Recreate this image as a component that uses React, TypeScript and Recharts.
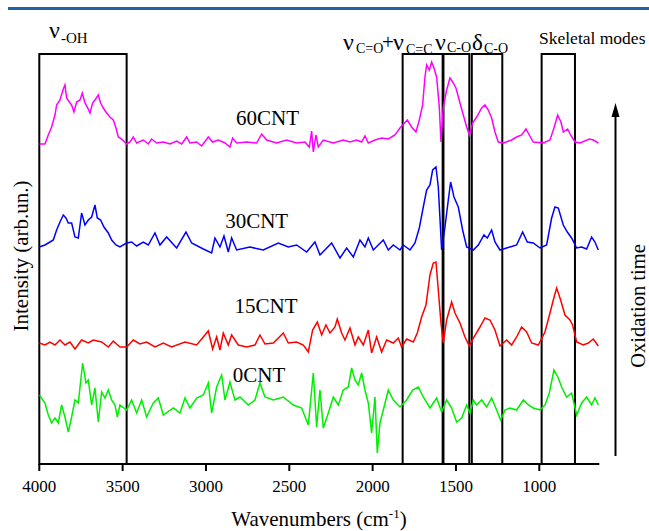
import React from "react";
import { LineChart, Line, XAxis, YAxis, ReferenceArea } from "recharts";

// wavenumber (cm-1), intensity (arb. units, offset stacked)
const cnt60: [number, number][] = [
  [4000, 320], [3966, 320], [3946, 329], [3926, 337], [3906, 349], [3896, 359], [3876, 364], [3856, 375],
  [3846, 379], [3836, 366], [3820, 362], [3806, 359], [3792, 352], [3776, 362], [3756, 364], [3742, 371],
  [3726, 361], [3712, 357], [3696, 351], [3680, 361], [3666, 364], [3646, 369], [3632, 361], [3616, 356],
  [3596, 351], [3576, 347], [3556, 344], [3540, 336], [3526, 327], [3506, 325], [3476, 320], [3456, 322],
  [3436, 327], [3416, 321], [3376, 324], [3346, 320], [3326, 325], [3296, 321], [3256, 322], [3216, 320],
  [3176, 323], [3146, 320], [3116, 327], [3096, 321], [3056, 322], [3026, 318], [2986, 327], [2960, 322],
  [2926, 324], [2886, 321], [2856, 317], [2840, 326], [2816, 321], [2756, 322], [2696, 321], [2666, 330],
  [2636, 324], [2576, 321], [2516, 324], [2456, 321], [2406, 322], [2380, 317], [2366, 333], [2356, 312],
  [2340, 329], [2326, 317], [2296, 324], [2236, 321], [2176, 324], [2136, 322], [2096, 324], [2066, 322],
  [2046, 328], [2026, 321], [1986, 324], [1946, 326], [1906, 325], [1866, 329], [1836, 336], [1792, 344],
  [1766, 337], [1740, 332], [1720, 344], [1700, 359], [1686, 387], [1676, 399], [1660, 394], [1646, 402],
  [1632, 396], [1616, 387], [1600, 357], [1590, 322], [1576, 357], [1556, 374], [1536, 386], [1520, 382],
  [1500, 376], [1476, 361], [1456, 349], [1436, 337], [1420, 329], [1400, 341], [1376, 347], [1346, 356],
  [1326, 359], [1306, 354], [1286, 346], [1266, 332], [1246, 322], [1216, 321], [1166, 324], [1136, 327],
  [1106, 329], [1080, 335], [1060, 329], [1036, 322], [976, 321], [936, 324], [912, 336], [890, 349],
  [870, 342], [856, 332], [830, 335], [812, 329], [786, 322], [756, 321], [700, 325], [676, 324], [646, 321],
];

const cnt30: [number, number][] = [
  [4000, 217], [3966, 219], [3936, 222], [3916, 224], [3896, 234], [3876, 242], [3856, 249], [3840, 246],
  [3826, 241], [3806, 241], [3786, 227], [3766, 226], [3746, 251], [3726, 239], [3706, 244], [3686, 247],
  [3666, 259], [3652, 246], [3632, 244], [3612, 237], [3586, 231], [3566, 224], [3540, 219], [3516, 217],
  [3476, 221], [3446, 222], [3416, 218], [3376, 222], [3346, 219], [3306, 231], [3276, 219], [3236, 227],
  [3176, 216], [3120, 232], [3086, 221], [3016, 215], [2966, 211], [2946, 226], [2916, 217], [2892, 228],
  [2866, 212], [2846, 226], [2816, 214], [2736, 217], [2656, 214], [2566, 221], [2506, 217], [2456, 219],
  [2396, 212], [2346, 222], [2316, 209], [2246, 221], [2196, 206], [2156, 216], [2116, 207], [2076, 224],
  [2046, 217], [2026, 226], [1996, 214], [1936, 224], [1906, 214], [1876, 219], [1836, 214], [1816, 219],
  [1776, 214], [1746, 221], [1720, 236], [1696, 257], [1676, 274], [1656, 279], [1640, 294], [1620, 297],
  [1606, 277], [1586, 214], [1566, 237], [1546, 264], [1532, 282], [1512, 267], [1486, 257], [1460, 234],
  [1436, 217], [1396, 214], [1366, 219], [1332, 229], [1312, 226], [1286, 234], [1266, 222], [1236, 214],
  [1176, 217], [1136, 219], [1100, 232], [1072, 222], [1036, 221], [996, 216], [956, 219], [926, 246],
  [906, 257], [886, 256], [856, 239], [832, 232], [806, 226], [776, 216], [746, 217], [716, 215],
  [686, 227], [666, 222], [646, 214],
];

const cnt15: [number, number][] = [
  [4000, 121], [3966, 119], [3936, 122], [3906, 119], [3876, 124], [3846, 119], [3816, 122], [3786, 115],
  [3746, 124], [3706, 121], [3676, 124], [3626, 122], [3586, 117], [3556, 123], [3516, 117], [3476, 117],
  [3436, 124], [3396, 120], [3356, 122], [3306, 117], [3256, 121], [3206, 117], [3126, 122], [3056, 119],
  [3016, 127], [2986, 133], [2960, 115], [2936, 127], [2916, 114], [2896, 131], [2866, 119], [2846, 129],
  [2806, 119], [2756, 117], [2706, 119], [2676, 129], [2646, 120], [2596, 121], [2536, 131], [2506, 121],
  [2456, 122], [2416, 119], [2386, 112], [2360, 134], [2332, 142], [2306, 129], [2280, 139], [2256, 131],
  [2226, 137], [2212, 145], [2186, 131], [2166, 124], [2136, 136], [2106, 119], [2086, 127], [2056, 119],
  [2026, 134], [2006, 111], [1976, 127], [1946, 112], [1916, 124], [1876, 121], [1846, 126], [1826, 117],
  [1796, 125], [1756, 122], [1732, 131], [1706, 147], [1680, 159], [1656, 189], [1636, 201], [1620, 202],
  [1606, 174], [1590, 141], [1576, 121], [1556, 144], [1526, 162], [1506, 151], [1476, 141], [1446, 127],
  [1420, 118], [1392, 127], [1356, 137], [1326, 146], [1296, 144], [1266, 134], [1236, 118], [1196, 124],
  [1166, 119], [1136, 127], [1106, 137], [1076, 132], [1046, 121], [1006, 119], [966, 132], [936, 151],
  [916, 164], [896, 176], [872, 164], [846, 149], [816, 144], [800, 139], [776, 122], [736, 119],
  [706, 121], [676, 125], [646, 118],
];

const cnt0: [number, number][] = [
  [4000, 69], [3966, 61], [3946, 49], [3926, 41], [3906, 46], [3886, 41], [3866, 59], [3846, 47],
  [3826, 32], [3806, 47], [3786, 64], [3766, 61], [3740, 101], [3720, 81], [3706, 84], [3686, 59],
  [3666, 76], [3646, 42], [3626, 72], [3606, 66], [3586, 74], [3566, 64], [3546, 59], [3532, 47],
  [3516, 59], [3476, 54], [3446, 64], [3416, 51], [3386, 64], [3356, 47], [3316, 61], [3286, 66],
  [3256, 49], [3196, 56], [3156, 51], [3126, 66], [3096, 56], [3056, 66], [3016, 69], [2986, 81],
  [2966, 51], [2936, 77], [2906, 89], [2886, 64], [2856, 82], [2826, 64], [2796, 67], [2746, 59],
  [2706, 64], [2676, 81], [2646, 67], [2596, 64], [2536, 67], [2476, 59], [2426, 56], [2386, 39],
  [2356, 91], [2336, 37], [2316, 74], [2296, 36], [2266, 51], [2236, 67], [2206, 59], [2176, 74],
  [2146, 77], [2126, 96], [2106, 84], [2086, 79], [2066, 91], [2046, 74], [2026, 61], [2006, 31],
  [1986, 67], [1972, 11], [1956, 41], [1936, 54], [1906, 74], [1876, 64], [1836, 57], [1796, 64],
  [1760, 74], [1726, 77], [1696, 67], [1656, 56], [1616, 66], [1586, 52], [1556, 64], [1526, 56],
  [1496, 42], [1466, 46], [1436, 59], [1416, 51], [1396, 64], [1376, 59], [1346, 64], [1316, 57],
  [1286, 66], [1256, 54], [1232, 44], [1206, 54], [1176, 56], [1136, 54], [1096, 64], [1066, 59],
  [1036, 56], [996, 54], [966, 59], [940, 71], [912, 94], [886, 86], [866, 77], [836, 67],
  [806, 71], [776, 49], [746, 61], [716, 67], [686, 59], [666, 66], [646, 59],
];

const xTicks = [4000, 3500, 3000, 2500, 2000, 1500, 1000];

// band boxes [from, to] in cm-1
const bandBoxes: [number, number][] = [
  [4000, 3476],
  [1820, 1580],
  [1575, 1420],
  [1405, 1222],
  [986, 786],
];

const toRows = (pts: [number, number][]) => pts.map(([wn, v]) => ({ wn, v }));

const FONT = "Liberation Serif, Times New Roman, serif";
const T = { fontFamily: FONT, fill: "#000" } as const;

export default function App() {
  return (
    <div style={{ position: "absolute", left: 0, top: 0, width: 649, height: 531, background: "#fff" }}>
      <div style={{ position: "absolute", left: 0, top: 0 }}>
        <LineChart
          width={649}
          height={531}
          margin={{ top: 54, right: 49.7, left: 39.3, bottom: 37 }}
          style={{ fontFamily: FONT }}
        >
          <XAxis
            type="number"
            dataKey="wn"
            domain={[640, 4000]}
            reversed
            allowDataOverflow
            ticks={xTicks}
            height={30}
            tickSize={7}
            tickMargin={9}
            axisLine={{ stroke: "#000", strokeWidth: 2 }}
            tickLine={{ stroke: "#000", strokeWidth: 2 }}
            tick={{ fill: "#000", fontSize: 17, fontFamily: FONT, style: { fontFamily: FONT } }}
          />
          <YAxis type="number" domain={[0, 410]} allowDataOverflow hide />
          <Line data={toRows(cnt60)} dataKey="v" stroke="#ff00ff" strokeWidth={1.5} dot={false} isAnimationActive={false} />
          <Line data={toRows(cnt30)} dataKey="v" stroke="#0000ff" strokeWidth={1.5} dot={false} isAnimationActive={false} />
          <Line data={toRows(cnt15)} dataKey="v" stroke="#ff0000" strokeWidth={1.5} dot={false} isAnimationActive={false} />
          <Line data={toRows(cnt0)} dataKey="v" stroke="#00ee00" strokeWidth={1.5} dot={false} isAnimationActive={false} />
          {bandBoxes.map(([a, b], i) => (
            <ReferenceArea
              key={i}
              x1={a}
              x2={b}
              y1={0}
              y2={410}
              fill="none"
              fillOpacity={0}
              stroke="#000"
              strokeWidth={2}
              ifOverflow="visible"
            />
          ))}
        </LineChart>
      </div>
      <svg
        width={649}
        height={531}
        style={{ position: "absolute", left: 0, top: 0, pointerEvents: "none", fontFamily: FONT }}
      >
        <rect x={8} y={7} width={641} height={3} fill="#2262aa" />
        {/* band labels */}
        <text x={49} y={38} fontSize={24} style={T}>ν</text>
        <text x={61} y={43} fontSize={15} style={T}>-OH</text>

        <text x={343} y={50} fontSize={24} style={T}>ν</text>
        <text x={356} y={53} fontSize={14} style={T}>C=O</text>
        <text x={382} y={49} fontSize={21} style={T}>+</text>
        <text x={393} y={50} fontSize={24} style={T}>ν</text>
        <text x={406} y={54} fontSize={14} style={T}>C=C</text>
        <text x={435} y={50} fontSize={24} style={T}>ν</text>
        <text x={447} y={52} fontSize={14} style={T}>C-O</text>
        <text x={472} y={50} fontSize={23} style={T}>δ</text>
        <text x={484} y={53} fontSize={14} style={T}>C-O</text>

        <text x={539} y={44} fontSize={17.5} style={T}>Skeletal modes</text>
        {/* series labels */}
        <text x={267.5} y={125} fontSize={21} textAnchor="middle" style={T}>60CNT</text>
        <text x={256.7} y={228} fontSize={21} textAnchor="middle" style={T}>30CNT</text>
        <text x={266} y={312.5} fontSize={21} textAnchor="middle" style={T}>15CNT</text>
        <text x={259} y={381.5} fontSize={21} textAnchor="middle" style={T}>0CNT</text>
        {/* axis titles */}
        <text transform="translate(27.5,256) rotate(-90)" fontSize={21} textAnchor="middle" style={T}>
          Intensity (arb.un.)
        </text>
        <text x={319} y={525.5} fontSize={21} textAnchor="middle" style={T}>
          Wavenumbers (cm<tspan fontSize={13} dy={-8}>-1</tspan><tspan dy={8}>)</tspan>
        </text>
        {/* oxidation arrow */}
        <line x1={615.5} y1={456} x2={615.5} y2={114} stroke="#000" strokeWidth={2} />
        <polygon points="615.5,103 611.5,117 619.5,117" fill="#000" />
        <text transform="translate(645,306) rotate(-90)" fontSize={20.5} textAnchor="middle" style={T}>
          Oxidation time
        </text>
      </svg>
    </div>
  );
}
